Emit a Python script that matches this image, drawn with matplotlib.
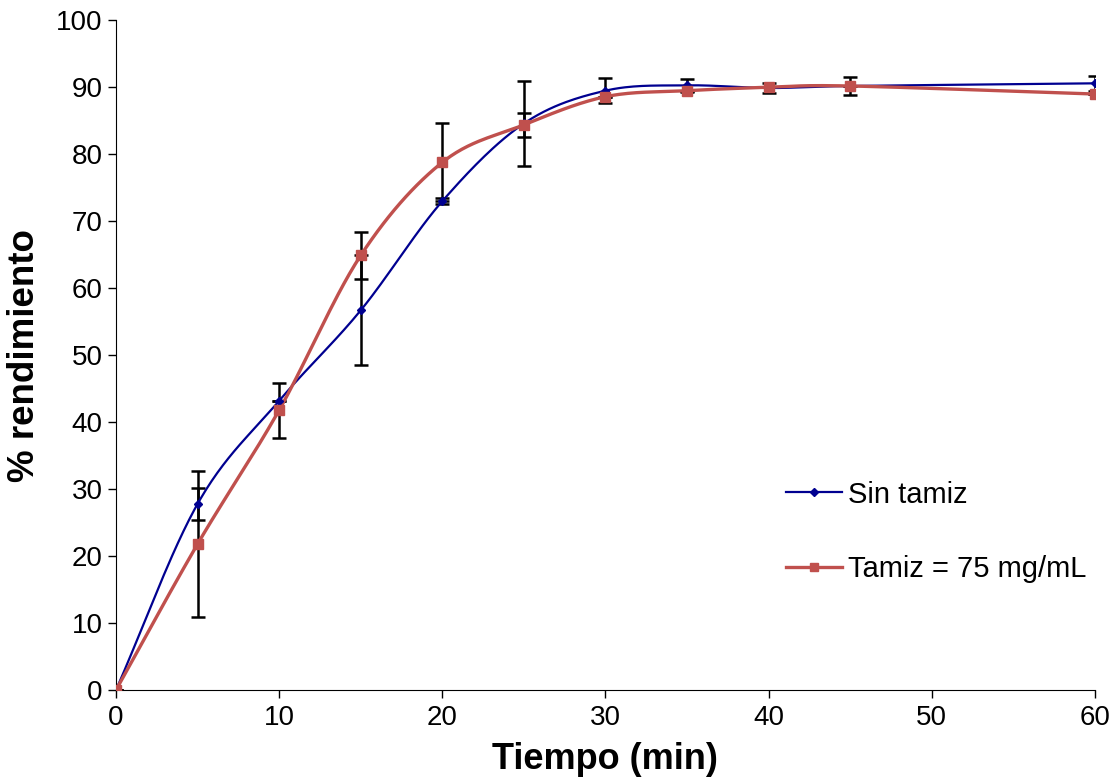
import numpy as np
import matplotlib
matplotlib.use('Agg')
import matplotlib.pyplot as plt

plt.rcParams['font.family'] = ['Liberation Sans', 'DejaVu Sans']

tiempo = [0, 5, 10, 15, 20, 25, 30, 35, 40, 45, 60]

sin_tamiz = [0, 27.8, 43.2, 56.7, 73.0, 84.6, 89.5, 90.3, 89.9, 90.2, 90.6]
sin_tamiz_err = [0, 2.4, 0, 8.2, 0.4, 6.4, 1.9, 1.0, 0.8, 0, 1.1]

tamiz = [0, 21.8, 41.8, 64.9, 78.8, 84.4, 88.6, 89.5, 90.0, 90.2, 89.0]
tamiz_err = [0, 10.9, 4.1, 3.5, 5.8, 1.8, 0, 0, 0, 1.4, 0]


def smooth(x, y, n=30):
    # catmull-rom through the points, like Excel's smoothed line
    p = np.column_stack([x, y]).astype(float)
    p = np.vstack([2 * p[0] - p[1], p, 2 * p[-1] - p[-2]])
    t = np.linspace(0, 1, n)[:, None]
    out = []
    for i in range(1, len(p) - 2):
        p0, p1, p2, p3 = p[i - 1], p[i], p[i + 1], p[i + 2]
        seg = 0.5 * ((2 * p1) + (-p0 + p2) * t + (2 * p0 - 5 * p1 + 4 * p2 - p3) * t ** 2
                     + (-p0 + 3 * p1 - 3 * p2 + p3) * t ** 3)
        out.append(seg)
    out = np.vstack(out)
    return out[:, 0], out[:, 1]


fig, ax = plt.subplots(figsize=(11.16, 7.84), dpi=100)
fig.subplots_adjust(left=0.104, right=0.981, bottom=0.12, top=0.974)

blue = '#000090'
red = '#C0504D'

ax.errorbar(tiempo, sin_tamiz, yerr=sin_tamiz_err, fmt='none', ecolor='black',
            elinewidth=1.8, capsize=5, capthick=1.8, zorder=2)
ax.errorbar(tiempo, tamiz, yerr=tamiz_err, fmt='none', ecolor='black',
            elinewidth=1.8, capsize=5, capthick=1.8, zorder=2)

xs, ys = smooth(tiempo, sin_tamiz)
ax.plot(xs, ys, color=blue, lw=1.6, zorder=3)
ax.plot(tiempo, sin_tamiz, ls='none', marker='D', ms=4.5, color=blue, zorder=4)
ax.plot([], [], color=blue, lw=1.6, marker='D', ms=4, label='Sin tamiz')

xs, ys = smooth(tiempo, tamiz)
ax.plot(xs, ys, color=red, lw=2.4, zorder=3)
ax.plot(tiempo, tamiz, ls='none', marker='s', ms=7, color=red, zorder=4)
ax.plot([], [], color=red, lw=2.4, marker='s', ms=6, label='Tamiz = 75 mg/mL')

ax.set_xlim(0, 60)
ax.set_ylim(0, 100)
ax.set_xticks(range(0, 61, 10))
ax.set_yticks(range(0, 101, 10))
ax.tick_params(axis='both', labelsize=20, length=6, width=1, direction='out')
ax.tick_params(axis='x', pad=5)
for s in ['top', 'right']:
    ax.spines[s].set_visible(False)

ax.set_xlabel('Tiempo (min)', fontsize=26, fontweight='bold', labelpad=8)
ax.set_ylabel('% rendimiento', fontsize=26.5, fontweight='bold', labelpad=10)

ax.legend(loc='lower left', bbox_to_anchor=(0.658, 0.12), frameon=False,
          fontsize=21, labelspacing=1.6, handlelength=1.9, handletextpad=0.2)

fig.savefig('out.png', dpi=100)
